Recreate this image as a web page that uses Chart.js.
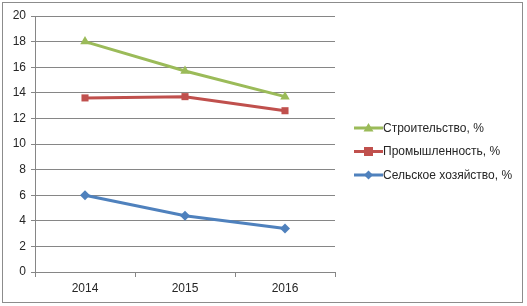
<!DOCTYPE html>
<html><head><meta charset="utf-8">
<script src="https://cdn.jsdelivr.net/npm/chart.js@4"></script>
<style>
html,body{margin:0;padding:0;background:#fff;}
#wrap{position:absolute;left:2px;top:2px;width:519px;height:299px;border:1px solid #8c8c8c;}
canvas{display:block;}
</style></head><body>
<div id="wrap"><canvas id="c" width="519" height="299"></canvas></div>
<script>
const categories = ['2014', '2015', '2016'];
const agriculture = [6.0, 4.4, 3.4];
const industry = [13.6, 13.7, 12.6];
const construction = [18.0, 15.7, 13.7];
const seriesNames = ['Сельское хозяйство, %', 'Промышленность, %', 'Строительство, %'];
const yTicks = [0, 2, 4, 6, 8, 10, 12, 14, 16, 18, 20];

const colors = ['#4F81BD', '#C0504D', '#9BBB59'];
const styles = ['rectRot', 'rect', 'triangle'];
const radii = [5, 5, 5.5];

const FONT = {family: "'Liberation Sans', Arial, sans-serif", size: 12};

function drawMarker(g, style, cx, cy, color) {
  g.fillStyle = color;
  g.beginPath();
  if (style === 'rect') { g.fillRect(cx - 4.5, cy - 4.5, 9, 9); }
  else if (style === 'rectRot') { g.moveTo(cx, cy - 4.5); g.lineTo(cx + 4.5, cy); g.lineTo(cx, cy + 4.5); g.lineTo(cx - 4.5, cy); g.closePath(); g.fill(); }
  else { g.moveTo(cx, cy - 5); g.lineTo(cx + 5, cy + 3.5); g.lineTo(cx - 5, cy + 3.5); g.closePath(); g.fill(); }
}

const customLegend = {
  id: 'customLegend',
  afterDraw(chart) {
    const g = chart.ctx;
    const ds = chart.data.datasets;
    const x0 = chart.chartArea.right + 19;
    const rowH = 23.5;
    const yStart = 125;
    g.save();
    g.font = "12px " + FONT.family;
    g.textBaseline = 'middle';
    g.textAlign = 'left';
    for (let k = 0; k < ds.length; k++) {
      const i = ds.length - 1 - k;
      const y = yStart + k * rowH;
      g.strokeStyle = ds[i].borderColor;
      g.lineWidth = 3;
      g.beginPath(); g.moveTo(x0, y); g.lineTo(x0 + 29, y); g.stroke();
      drawMarker(g, styles[i], x0 + 14.5, y, ds[i].borderColor);
      g.fillStyle = '#262626';
      g.fillText(ds[i].label, x0 + 29, y + 0.5);
    }
    g.restore();
  }
};

const dataSets = [agriculture, industry, construction].map((d, i) => ({
  label: seriesNames[i],
  data: d,
  borderColor: colors[i],
  backgroundColor: colors[i],
  borderWidth: 3,
  pointStyle: styles[i],
  pointRadius: radii[i],
  pointHoverRadius: radii[i],
  pointBorderWidth: 0,
  tension: 0
}));

new Chart(document.getElementById('c'), {
  type: 'line',
  data: {labels: categories, datasets: dataSets},
  plugins: [customLegend],
  options: {
    responsive: false,
    animation: false,
    layout: {padding: {top: 13, right: 187, left: 0, bottom: 0}},
    plugins: {
      tooltip: {enabled: false},
      legend: {display: false}
    },
    scales: {
      x: {
        offset: true,
        grid: {display: true, drawOnChartArea: false, drawTicks: true, tickLength: 5, color: '#868686', offset: true},
        border: {display: true, color: '#868686'},
        ticks: {color: '#262626', font: FONT, padding: 4},
        afterFit: (s) => { s.height = 30; }
      },
      y: {
        min: 0, max: 20,
        afterBuildTicks: (s) => { s.ticks = yTicks.map(v => ({value: v})); },
        grid: {color: '#868686', tickLength: 4},
        border: {display: true, color: '#868686'},
        ticks: {color: '#262626', font: FONT, padding: 5},
        afterFit: (s) => { s.width = 32; }
      }
    }
  }
});
</script>
</body></html>
